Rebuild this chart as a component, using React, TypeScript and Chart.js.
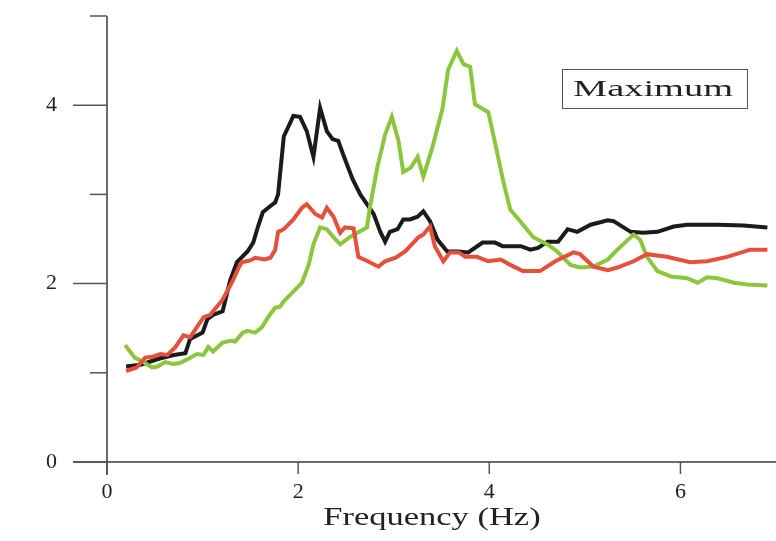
import React, { useEffect, useRef } from "react";
import { Chart, registerables } from "chart.js";

Chart.register(...registerables);

// ---- Data ----
const blackFreq = [0.2, 0.35, 0.55, 0.7, 0.82, 0.87, 1.0, 1.05, 1.11, 1.21, 1.29, 1.36, 1.47, 1.53, 1.58, 1.63, 1.71, 1.76, 1.79, 1.85, 1.95, 2.02, 2.09, 2.16, 2.23, 2.3, 2.36, 2.42, 2.47, 2.57, 2.65, 2.72, 2.79, 2.86, 2.91, 2.96, 3.04, 3.1, 3.17, 3.25, 3.31, 3.38, 3.46, 3.56, 3.67, 3.78, 3.93, 4.06, 4.14, 4.33, 4.43, 4.51, 4.61, 4.72, 4.82, 4.92, 5.06, 5.24, 5.3, 5.48, 5.61, 5.76, 5.93, 6.07, 6.39, 6.66, 6.91];
const blackAmp = [1.07, 1.09, 1.16, 1.2, 1.22, 1.38, 1.45, 1.6, 1.65, 1.69, 2.04, 2.24, 2.36, 2.46, 2.64, 2.8, 2.87, 2.91, 3.0, 3.65, 3.88, 3.87, 3.71, 3.42, 3.97, 3.71, 3.62, 3.6, 3.45, 3.17, 3.0, 2.89, 2.78, 2.58, 2.47, 2.58, 2.61, 2.72, 2.72, 2.75, 2.81, 2.7, 2.49, 2.36, 2.36, 2.35, 2.46, 2.46, 2.42, 2.42, 2.38, 2.4, 2.47, 2.47, 2.61, 2.58, 2.66, 2.71, 2.7, 2.58, 2.57, 2.58, 2.64, 2.66, 2.66, 2.65, 2.63];

const redFreq = [0.2, 0.31, 0.4, 0.48, 0.56, 0.63, 0.71, 0.8, 0.87, 1.01, 1.08, 1.21, 1.31, 1.37, 1.41, 1.5, 1.55, 1.65, 1.71, 1.76, 1.79, 1.85, 1.95, 2.04, 2.09, 2.18, 2.25, 2.3, 2.37, 2.44, 2.49, 2.58, 2.63, 2.75, 2.84, 2.91, 3.02, 3.12, 3.26, 3.31, 3.38, 3.43, 3.52, 3.59, 3.68, 3.75, 3.87, 3.99, 4.12, 4.22, 4.35, 4.53, 4.69, 4.88, 4.95, 5.09, 5.24, 5.34, 5.51, 5.65, 5.86, 6.1, 6.28, 6.49, 6.73, 6.91];
const redAmp = [1.02, 1.06, 1.17, 1.18, 1.21, 1.2, 1.28, 1.42, 1.4, 1.62, 1.65, 1.82, 2.02, 2.16, 2.24, 2.26, 2.29, 2.27, 2.29, 2.38, 2.58, 2.61, 2.72, 2.85, 2.89, 2.78, 2.74, 2.85, 2.75, 2.57, 2.63, 2.62, 2.3, 2.24, 2.19, 2.25, 2.29, 2.36, 2.52, 2.55, 2.64, 2.42, 2.25, 2.35, 2.35, 2.3, 2.3, 2.25, 2.27, 2.21, 2.14, 2.14, 2.25, 2.35, 2.33, 2.19, 2.15, 2.18, 2.25, 2.33, 2.3, 2.24, 2.25, 2.3, 2.38, 2.38];

const greenFreq = [0.19, 0.29, 0.38, 0.47, 0.53, 0.61, 0.69, 0.76, 0.84, 0.94, 1.01, 1.06, 1.11, 1.21, 1.29, 1.34, 1.42, 1.47, 1.55, 1.62, 1.69, 1.76, 1.81, 1.84, 1.95, 2.04, 2.11, 2.16, 2.23, 2.3, 2.37, 2.44, 2.54, 2.62, 2.72, 2.75, 2.83, 2.91, 2.98, 3.05, 3.1, 3.18, 3.25, 3.31, 3.4, 3.51, 3.57, 3.66, 3.73, 3.8, 3.85, 3.99, 4.06, 4.15, 4.22, 4.33, 4.46, 4.61, 4.71, 4.85, 4.95, 5.09, 5.24, 5.34, 5.45, 5.51, 5.58, 5.65, 5.76, 5.9, 6.07, 6.18, 6.28, 6.39, 6.56, 6.7, 6.91];
const greenAmp = [1.31, 1.17, 1.12, 1.06, 1.07, 1.12, 1.1, 1.11, 1.15, 1.21, 1.2, 1.29, 1.24, 1.34, 1.36, 1.35, 1.45, 1.47, 1.45, 1.51, 1.63, 1.73, 1.74, 1.79, 1.91, 2.01, 2.21, 2.44, 2.63, 2.61, 2.52, 2.44, 2.52, 2.57, 2.63, 2.85, 3.31, 3.67, 3.87, 3.6, 3.25, 3.3, 3.42, 3.2, 3.51, 3.96, 4.4, 4.61, 4.46, 4.43, 4.01, 3.92, 3.58, 3.13, 2.83, 2.69, 2.52, 2.44, 2.36, 2.21, 2.18, 2.19, 2.27, 2.38, 2.49, 2.55, 2.49, 2.3, 2.14, 2.08, 2.06, 2.01, 2.07, 2.06, 2.01, 1.99, 1.98];

const xTickValues = [0, 2, 4, 6];
const yMajorTicks = [0, 2, 4];
const yMinorTicks = [1, 3, 5];
const xTitle = "Frequency (Hz)";
const boxLabel = "Maximum";

const SERIF = "'Liberation Serif', 'Times New Roman', serif";

const toPoints = (xs: number[], ys: number[]) => xs.map((x, i) => ({ x, y: ys[i] }));

const axesPlugin = {
  id: "customAxes",
  beforeDatasetsDraw(chart: any) {
    const { ctx } = chart;
    const xs = chart.scales.x;
    const ys = chart.scales.y;
    const x0 = xs.getPixelForValue(0);
    const y0 = ys.getPixelForValue(0);
    ctx.save();
    ctx.strokeStyle = "#3a3a3a";
    ctx.lineWidth = 1.5;
    // y axis line
    ctx.beginPath();
    ctx.moveTo(x0, ys.getPixelForValue(5));
    ctx.lineTo(x0, y0 + 13);
    ctx.stroke();
    // x axis line
    ctx.beginPath();
    ctx.moveTo(x0 - 34, y0);
    ctx.lineTo(chart.width, y0);
    ctx.stroke();
    // y ticks
    ctx.strokeStyle = "#555";
    yMajorTicks.forEach((v) => {
      const p = ys.getPixelForValue(v);
      ctx.beginPath();
      ctx.moveTo(x0 - 34, p);
      ctx.lineTo(x0, p);
      ctx.stroke();
    });
    yMinorTicks.forEach((v) => {
      const p = ys.getPixelForValue(v);
      ctx.beginPath();
      ctx.moveTo(x0 - 17, p);
      ctx.lineTo(x0, p);
      ctx.stroke();
    });
    // x ticks
    xTickValues.forEach((v) => {
      const p = xs.getPixelForValue(v);
      ctx.beginPath();
      ctx.moveTo(p, y0);
      ctx.lineTo(p, y0 + 12);
      ctx.stroke();
    });
    ctx.restore();
  },
  afterDraw(chart: any) {
    const { ctx } = chart;
    const xs = chart.scales.x;
    ctx.save();
    // axis title (horizontally stretched like the reference)
    ctx.fillStyle = "#222";
    ctx.font = `25px ${SERIF}`;
    ctx.textAlign = "center";
    ctx.textBaseline = "middle";
    const tx = xs.getPixelForValue(3.4);
    ctx.translate(tx, 518);
    ctx.scale(1.38, 1);
    ctx.fillText(xTitle, 0, 0);
    ctx.restore();

    // "Maximum" box
    ctx.save();
    ctx.strokeStyle = "#555";
    ctx.lineWidth = 1;
    ctx.strokeRect(562.5, 69.5, 185, 39);
    ctx.fillStyle = "#222";
    ctx.font = `24px ${SERIF}`;
    ctx.textAlign = "center";
    ctx.textBaseline = "middle";
    ctx.translate(653, 90);
    ctx.scale(1.6, 1);
    ctx.fillText(boxLabel, 0, 0);
    ctx.restore();
  },
};

export default function App() {
  const ref = useRef<HTMLCanvasElement>(null);
  useEffect(() => {
    if (!ref.current) return;
    const chart = new Chart(ref.current, {
      type: "line",
      data: {
        datasets: [
          {
            label: "Red",
            data: toPoints(redFreq, redAmp),
            borderColor: "#e4503a",
            borderWidth: 4,
            pointRadius: 0,
            tension: 0,
            fill: false,
            order: 1,
          },
          {
            label: "Green",
            data: toPoints(greenFreq, greenAmp),
            borderColor: "#8cc63f",
            borderWidth: 4,
            pointRadius: 0,
            tension: 0,
            fill: false,
            order: 2,
          },
          {
            label: "Black",
            data: toPoints(blackFreq, blackAmp),
            borderColor: "#1b1b1b",
            borderWidth: 4,
            pointRadius: 0,
            tension: 0,
            fill: false,
            order: 3,
          },
        ],
      },
      options: {
        responsive: false,
        animation: false,
        devicePixelRatio: 1,
        layout: { padding: { top: 16, left: 0, right: 0, bottom: 0 } },
        plugins: {
          legend: { display: false },
          tooltip: { enabled: false },
        },
        scales: {
          x: {
            type: "linear",
            min: 0,
            max: 7,
            grid: { display: false, drawTicks: false },
            border: { display: false },
            ticks: {
              padding: 17,
              color: "#222",
              font: { family: SERIF, size: 22 },
              maxRotation: 0,
            },
            afterBuildTicks: (s: any) => {
              s.ticks = xTickValues.map((v) => ({ value: v }));
            },
            afterFit: (s: any) => {
              s.height = 79;
              s.paddingLeft = 0;
              s.paddingRight = 0;
            },
          },
          y: {
            type: "linear",
            min: 0,
            max: 5,
            grid: { display: false, drawTicks: false },
            border: { display: false },
            ticks: {
              padding: 50,
              color: "#222",
              font: { family: SERIF, size: 22 },
            },
            afterBuildTicks: (s: any) => {
              s.ticks = yMajorTicks.map((v) => ({ value: v }));
            },
            afterFit: (s: any) => {
              s.width = 107;
              s.paddingTop = 0;
              s.paddingBottom = 0;
            },
          },
        },
      },
      plugins: [axesPlugin],
    });
    return () => chart.destroy();
  }, []);

  return (
    <div style={{ position: "absolute", left: 0, top: 0, width: 776, height: 541, background: "#fff" }}>
      <canvas ref={ref} width={776} height={541} style={{ display: "block" }} />
    </div>
  );
}
